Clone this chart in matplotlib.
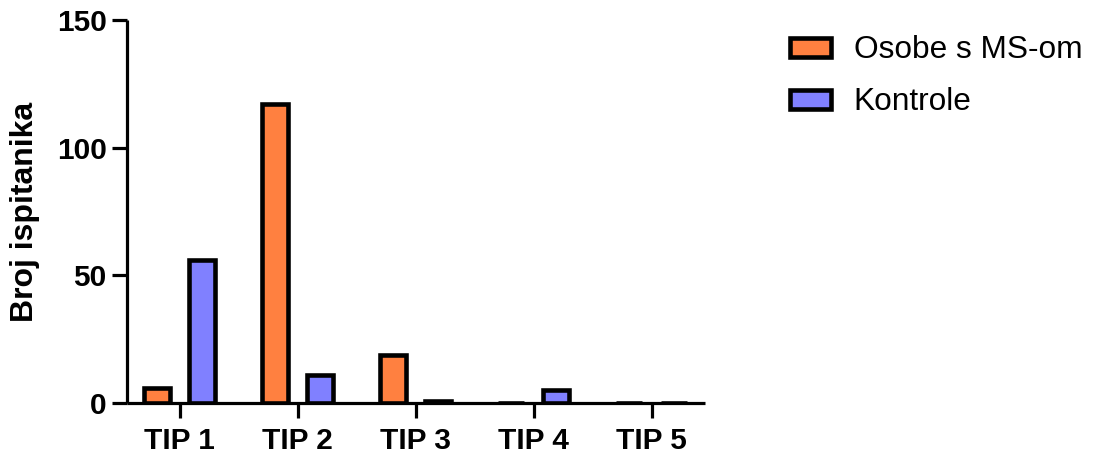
import numpy as np
import matplotlib.pyplot as plt

plt.rcParams['font.family'] = ['Liberation Sans', 'DejaVu Sans']

categories = ["TIP 1", "TIP 2", "TIP 3", "TIP 4", "TIP 5"]
ms_patients = [6, 117, 19, 0, 0]
controls = [56, 11, 1, 5, 0]

fig = plt.figure(figsize=(10.93, 4.54), dpi=100)
ax = fig.add_axes([0.116, 0.112, 0.529, 0.844])

x = np.arange(len(categories))
w = 0.22
off = 0.19
ax.bar(x - off, ms_patients, w, color="#FF8040", edgecolor="black", linewidth=3.3,
       label="Osobe s MS-om", zorder=3)
ax.bar(x + off, controls, w, color="#8080FF", edgecolor="black", linewidth=3.3,
       label="Kontrole", zorder=3)

ax.set_xlim(-0.45, 4.45)
ax.set_ylim(0, 150)
ax.set_yticks([0, 50, 100, 150])
ax.set_xticks(x)
ax.set_xticklabels(categories)
ax.set_ylabel("Broj ispitanika", fontsize=23, fontweight="bold", labelpad=12)

for s in ["top", "right"]:
    ax.spines[s].set_visible(False)
for s in ["left", "bottom"]:
    ax.spines[s].set_linewidth(2.3)
    ax.spines[s].set_capstyle("butt")
ax.tick_params(axis="both", width=2.3, length=10.5, labelsize=21.5)
ax.tick_params(axis="y", pad=4)
ax.tick_params(axis="x", pad=7)
for lab in ax.get_xticklabels() + ax.get_yticklabels():
    lab.set_fontweight("bold")

fig.legend(loc="upper left", bbox_to_anchor=(0.697, 0.985), frameon=False,
           fontsize=22.8, handlelength=1.3, handleheight=0.55, labelspacing=0.7,
           handletextpad=0.7)

fig.savefig("out.png", dpi=100)
